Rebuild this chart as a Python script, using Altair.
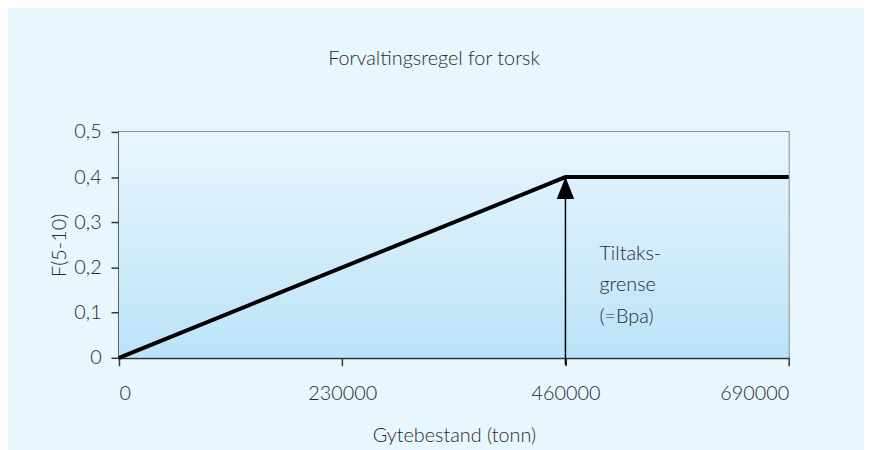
import altair as alt
import pandas as pd

# Data
ssb = [0, 460000, 690000]          # Gytebestand (tonn)
f_rate = [0.0, 0.4, 0.4]           # F(5-10)
x_ticks = [0, 230000, 460000, 690000]
y_ticks = [0.0, 0.1, 0.2, 0.3, 0.4, 0.5]
bpa = [460000]
bpa_f = [0.4]
note_lines = ["Tiltaks-", "grense", "(=Bpa)"]
note_x = [495000]
note_y = [0.217]

FONT = "Lato"
FS = 20
FW = 300
TXT = "#2a2a2a"

line_df = pd.DataFrame({"x": ssb, "y": f_rate})
arrow_df = pd.DataFrame({"x": bpa, "y0": [0.0], "y1": bpa_f})
note_df = pd.DataFrame({"x": note_x, "y": note_y, "t": [note_lines]})

xs = alt.Scale(domain=[0, 690000], nice=False, zero=False)
ys = alt.Scale(domain=[0, 0.5], nice=False)

x_axis = alt.Axis(
    values=x_ticks, format="d", title="Gytebestand (tonn)", grid=False,
    tickSize=8, labelPadding=18, titlePadding=22,
)
y_axis = alt.Axis(
    values=y_ticks, grid=False, title="F(5-10)",
    labelExpr="datum.value == 0 ? '0' : replace(format(datum.value, '.1f'), '.', ',')",
    tickSize=8, labelPadding=10, titlePadding=4,
)

grad = alt.LinearGradient(
    gradient="linear", x1=0, y1=0, x2=0, y2=1,
    stops=[alt.GradientStop(offset=0, color="#e8f6fe"),
           alt.GradientStop(offset=1, color="#bce3f8")],
)

bg = alt.Chart(pd.DataFrame({"a": [0]})).mark_rect(color=grad).encode(
    x=alt.value(0), x2=alt.value("width"), y=alt.value(0), y2=alt.value("height"),
)

line = alt.Chart(line_df).mark_line(color="black", strokeWidth=4, strokeCap="butt",
                                    strokeJoin="miter").encode(
    x=alt.X("x:Q", scale=xs, axis=x_axis),
    y=alt.Y("y:Q", scale=ys, axis=y_axis),
)

arrow_shaft = alt.Chart(arrow_df).mark_rule(color="black", strokeWidth=1.5, yOffset=7).encode(
    x=alt.X("x:Q", scale=xs),
    y=alt.Y("y0:Q", scale=ys),
    y2="y1:Q",
)

arrow_head = alt.Chart(arrow_df).mark_point(
    shape="M0,0L-0.8,2L0.8,2Z", size=484, filled=True, color="black", opacity=1,
    strokeWidth=0,
).encode(
    x=alt.X("x:Q", scale=xs),
    y=alt.Y("y1:Q", scale=ys),
)

note = alt.Chart(note_df).mark_text(
    align="left", baseline="alphabetic", lineHeight=32, font=FONT, fontSize=FS,
    fontWeight=FW, color=TXT,
).encode(
    x=alt.X("x:Q", scale=xs),
    y=alt.Y("y:Q", scale=ys),
    text="t",
)

chart = alt.layer(bg, line, arrow_shaft, arrow_head, note).properties(
    width=676, height=228,
    autosize=alt.AutoSizeParams(type="none"),
    padding={"left": 112, "top": 123, "right": 76, "bottom": 91},
    background="#e8f6fe",
    title=alt.TitleParams("Forvaltingsregel for torsk", font=FONT, fontSize=FS,
                          fontWeight=FW, color=TXT, offset=54, dx=-20),
).configure_view(
    stroke="#8c8c8c", strokeWidth=2,
).configure_axis(
    domainColor="#333333", domainWidth=2, tickColor="#333333", tickWidth=1.5,
    labelFont=FONT, labelFontSize=FS, labelColor=TXT, labelFontWeight=FW,
    titleFont=FONT, titleFontSize=FS, titleColor=TXT, titleFontWeight=FW,
)

chart.save("out.html", embed_options={"renderer": "svg", "actions": False})
